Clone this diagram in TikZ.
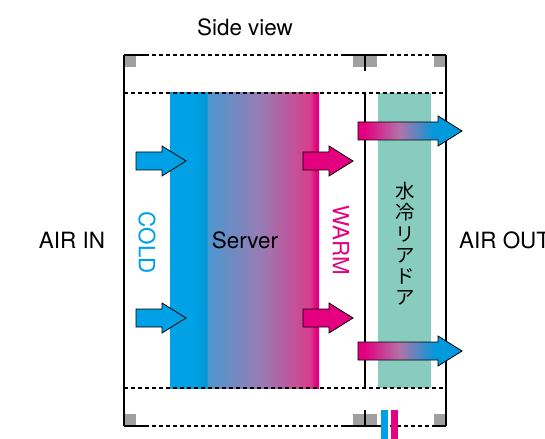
\documentclass[tikz,border=0pt]{standalone}
\usepackage{fontspec}
\setmainfont{TeX Gyre Heros}
\newfontfamily\jpfont{Noto Sans CJK JP}
\usepackage{xcolor}
\usepackage{tikz}
\usetikzlibrary{calc,positioning}
\definecolor{coldblue}{RGB}{0,160,230}
\definecolor{warmpink}{RGB}{228,0,127}
\definecolor{doorteal}{RGB}{136,204,192}
\definecolor{cornergray}{RGB}{160,160,160}
\pgfdeclarehorizontalshading{servershade}{100bp}{%
  rgb(0bp)=(0,0.63,0.9); rgb(33bp)=(0,0.63,0.9); rgb(37.3bp)=(0,0.59,0.83);
  rgb(37.6bp)=(0.3,0.59,0.81); rgb(55bp)=(0.59,0.49,0.71);
  rgb(72bp)=(0.85,0.24,0.55); rgb(74bp)=(0.89,0,0.5); rgb(100bp)=(0.89,0,0.5)}
\pgfdeclarehorizontalshading{exitshade}{100bp}{%
  rgb(0bp)=(0.89,0,0.5); rgb(28bp)=(0.89,0,0.5); rgb(45bp)=(0.7,0.45,0.66);
  rgb(62bp)=(0,0.6,0.86); rgb(100bp)=(0,0.6,0.86)}
% body from x #2 to the tip #3, centred on y #4
\newcommand{\airarrow}[4]{%
  \path[#1] (#2,#4-9) -- (#3-24,#4-9) -- (#3-24,#4-15) -- (#3,#4)
    -- (#3-24,#4+15) -- (#3-24,#4+9) -- (#2,#4+9) -- cycle;}

\begin{document}
\begin{tikzpicture}[x=1bp, y=-1bp,
  every node/.style={font=\fontsize{22.5}{26}\selectfont, inner sep=0pt},
  frame/.style={line width=1.4bp, black},
  dashframe/.style={line width=1.3bp, black, dash pattern=on 4bp off 3bp},
  corner/.style={fill=cornergray},
  outline/.style={draw=black, line width=0.8bp}]
  \useasboundingbox (0,0) rectangle (545,439);

  % server and door
  \shade[shading=servershade] (170,93) rectangle (319,388);
  \fill[doorteal] (378,93) rectangle (431,388);

  % corner blocks
  \foreach \x in {125,353,366,434} {
    \fill[corner] (\x,56) rectangle ++(11,11);
    \fill[corner] (\x,414) rectangle ++(11,11);
  }

  % rack frame
  \foreach \y in {55,93,388,426}
    \draw[dashframe] (124,\y) -- (446,\y);
  \draw[frame] (124,55) -- (124,426);
  \draw[frame] (446,55) -- (446,426);
  \foreach \y in {55,426} {
    \draw[frame] (124,\y) -- (147,\y);
    \draw[frame] (342,\y) -- (387,\y);
    \draw[frame] (435,\y) -- (446,\y);
  }
  \draw[frame] (365,55) -- (365,71);
  \draw[frame] (365,410) -- (365,426);
  \draw[frame] (365,93) -- (365,388);

  % pipes
  \fill[coldblue] (381,410) rectangle (388,439);
  \fill[warmpink] (391,410) rectangle (398,439);

  % air flow
  \foreach \y in {161,318} {
    \airarrow{fill=coldblue, outline}{136}{186}{\y}
    \airarrow{fill=warmpink, outline}{303}{353}{\y}
  }
  \foreach \y in {131,351} {
    \airarrow{shading=exitshade, outline}{358}{462}{\y}
  }

  % labels
  \node (title) at (245,27) {Side view};
  \node (airin) at (72,240) {AIR IN};
  \node[anchor=west] (airout) at (459,240) {AIR OUT};
  \node (server) at (245,240) {Server};
  \node[rotate=-90, text=coldblue] (cold) at (147,243) {COLD};
  \node[rotate=-90, text=warmpink] (warm) at (341,240) {WARM};
  \node[align=center, font=\jpfont\fontsize{19.5}{21.3}\selectfont] (door) at (405,244)
    {水\\冷\\リ\\ア\\ド\\ア};
\end{tikzpicture}
\end{document}
